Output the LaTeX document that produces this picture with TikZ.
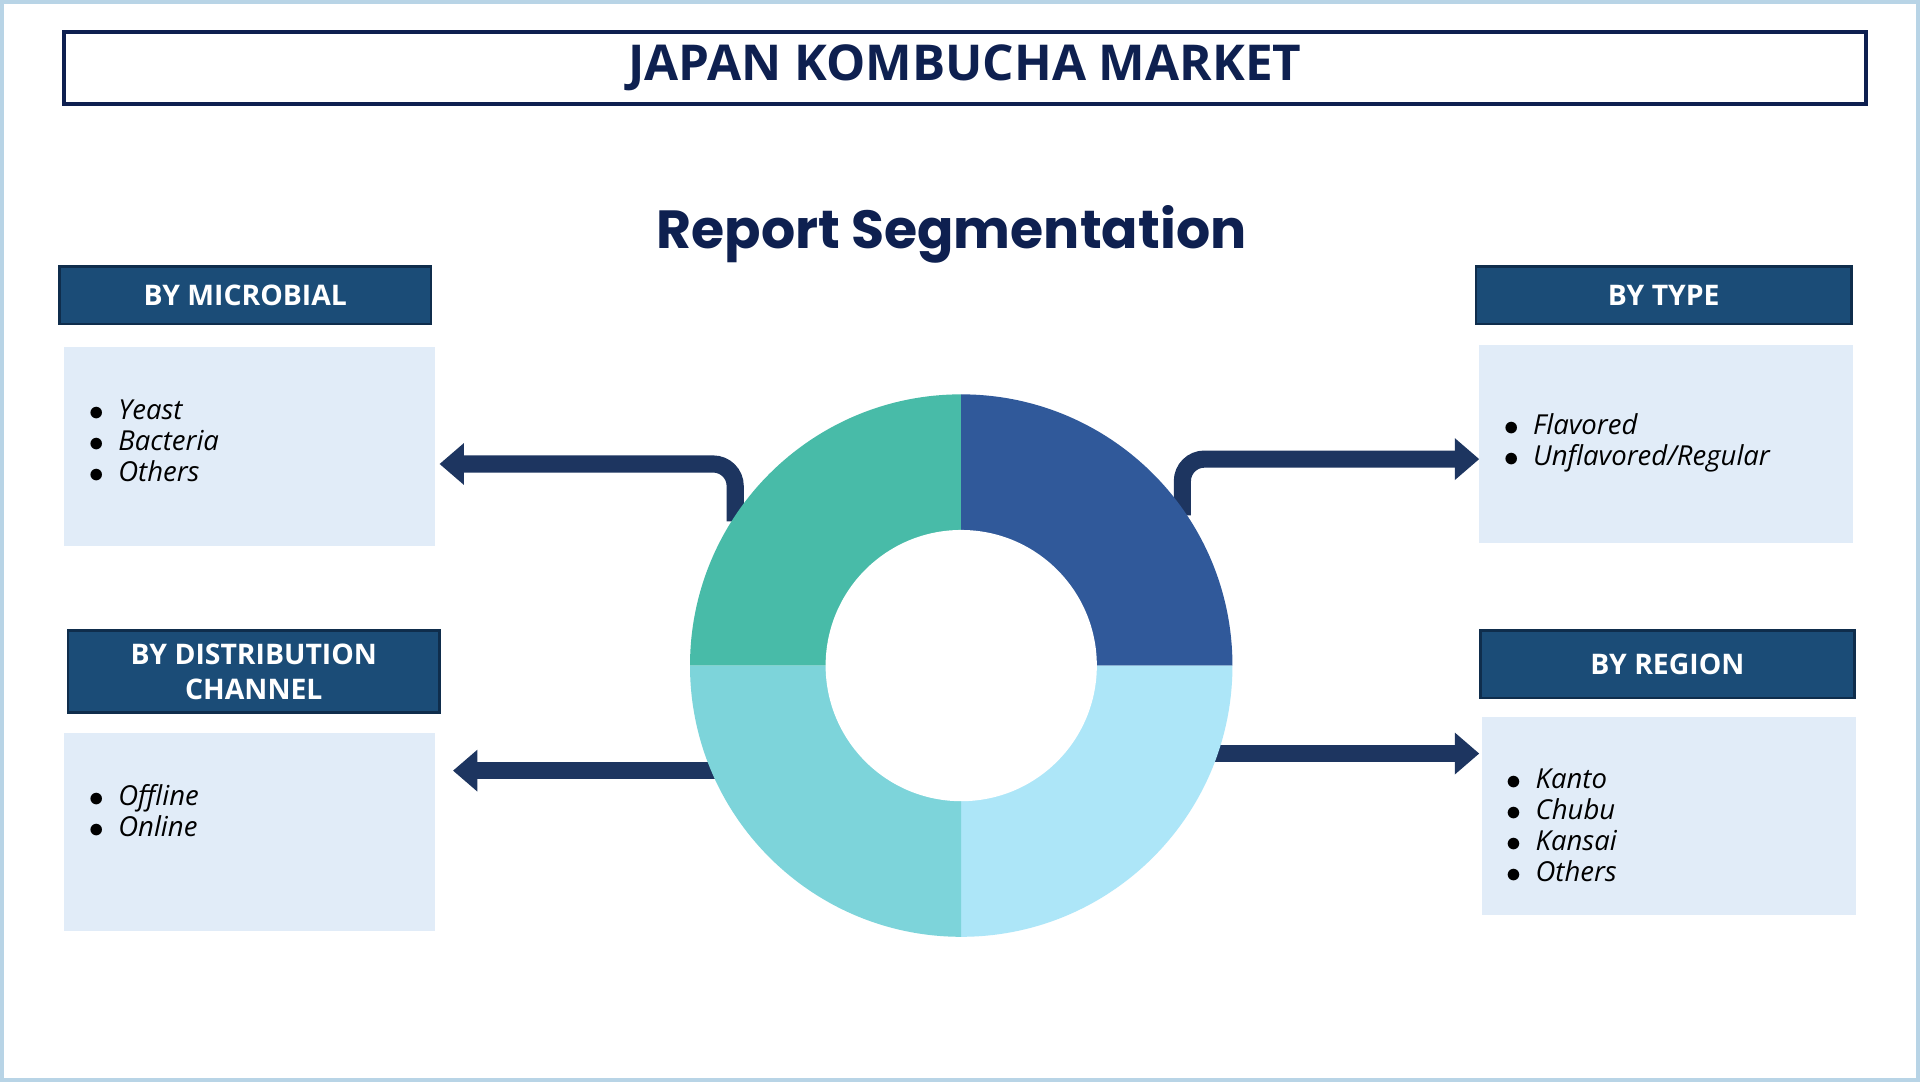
\documentclass[tikz,border=0pt]{standalone}
\usepackage{fontspec}
\setmainfont{Open Sans}
\newfontfamily\popp{Poppins}
\usetikzlibrary{arrows.meta}
\definecolor{navy}{HTML}{0E2050}
\definecolor{hdr}{HTML}{1B4C77}
\definecolor{hdrb}{HTML}{0F2D4C}
\definecolor{lbox}{HTML}{E1ECF8}
\definecolor{arr}{HTML}{1D3560}
\definecolor{qa}{HTML}{48BBA8}
\definecolor{qb}{HTML}{30599A}
\definecolor{qc}{HTML}{ADE6F8}
\definecolor{qd}{HTML}{7DD4DA}
\definecolor{frame}{HTML}{B8D4E6}
\begin{document}
\begin{tikzpicture}[x=0.01cm,y=-0.01cm,
 hdrbox/.style={fill=hdr,draw=hdrb,line width=0.6pt,text=white,font=\fontsize{6.6}{8}\selectfont\bfseries,align=center},
 listbox/.style={fill=lbox,inner sep=0pt},
 listtxt/.style={font=\fontsize{6.4}{7.2}\selectfont\itshape,align=left,anchor=north west,text=black},
 arrline/.style={draw=arr,line width=0.14cm,-{Triangle[length=0.2cm,width=0.33cm]},rounded corners=0.18cm}]
\path[use as bounding box,fill=white,draw=frame,line width=1pt] (0,0) rectangle (1568,882);
\node[draw=navy,line width=0.8pt,minimum width=14.74cm,minimum height=0.59cm,inner sep=0pt,font=\fontsize{11.5}{13}\selectfont\bfseries,text=navy] (title) at (788,54) {JAPAN KOMBUCHA MARKET};
\node[font=\popp\fontsize{12.5}{14}\selectfont\bfseries,text=navy] (rs) at (777,190) {Report Segmentation};
% headers
\node[hdrbox,minimum width=3.04cm,minimum height=0.47cm] (h1) at (199,240) {BY MICROBIAL};
\node[hdrbox,minimum width=3.07cm,minimum height=0.47cm] (h2) at (1360,240) {BY TYPE};
\node[hdrbox,minimum width=3.04cm,minimum height=0.67cm,inner sep=0pt] (h3) at (206,548) {BY DISTRIBUTION\\CHANNEL};
\node[hdrbox,minimum width=3.06cm,minimum height=0.55cm] (h4) at (1363,542) {BY REGION};
% list boxes
\node[listbox,minimum width=3.03cm,minimum height=1.63cm] (b1) at (202.5,363.5) {};
\node[listbox,minimum width=3.06cm,minimum height=1.62cm] (b2) at (1362,362) {};
\node[listbox,minimum width=3.03cm,minimum height=1.62cm] (b3) at (202.5,679) {};
\node[listbox,minimum width=3.06cm,minimum height=1.62cm] (b4) at (1364,666) {};
\node[listtxt] (t1) at (58,313) {$\bullet$\enspace Yeast\\$\bullet$\enspace Bacteria\\$\bullet$\enspace Others};
\node[listtxt] (t2) at (1216,324) {$\bullet$\enspace Flavored\\$\bullet$\enspace Unflavored/Regular};
\node[listtxt] (t3) at (58,628) {$\bullet$\enspace Offline\\$\bullet$\enspace Online};
\node[listtxt] (t4) at (1218,615) {$\bullet$\enspace Kanto\\$\bullet$\enspace Chubu\\$\bullet$\enspace Kansai\\$\bullet$\enspace Others};
% arrows
\coordinate (c) at (785,543);
\coordinate (a1s) at (600,425); \coordinate (a1e) at (358,378);
\coordinate (a2s) at (966,420); \coordinate (a2e) at (1209,374);
\coordinate (a3s) at (600,629); \coordinate (a3e) at (369,629);
\coordinate (a4s) at (980,615); \coordinate (a4e) at (1209,615);
\draw[arrline] (a1s) |- (a1e);
\draw[arrline] (a2s) |- (a2e);
\draw[arrline] (a3s) -- (a3e);
\draw[arrline] (a4s) -- (a4e);
% donut (y axis flipped: angle -90 is up)
\fill[qa] (c) -- +(180:222) arc[start angle=180,end angle=270,radius=222] -- cycle;
\fill[qb] (c) -- +(270:222) arc[start angle=270,end angle=360,radius=222] -- cycle;
\fill[qc] (c) -- +(0:222) arc[start angle=0,end angle=90,radius=222] -- cycle;
\fill[qd] (c) -- +(90:222) arc[start angle=90,end angle=180,radius=222] -- cycle;
\fill[white] (c) circle[radius=111];
\end{tikzpicture}
\end{document}
